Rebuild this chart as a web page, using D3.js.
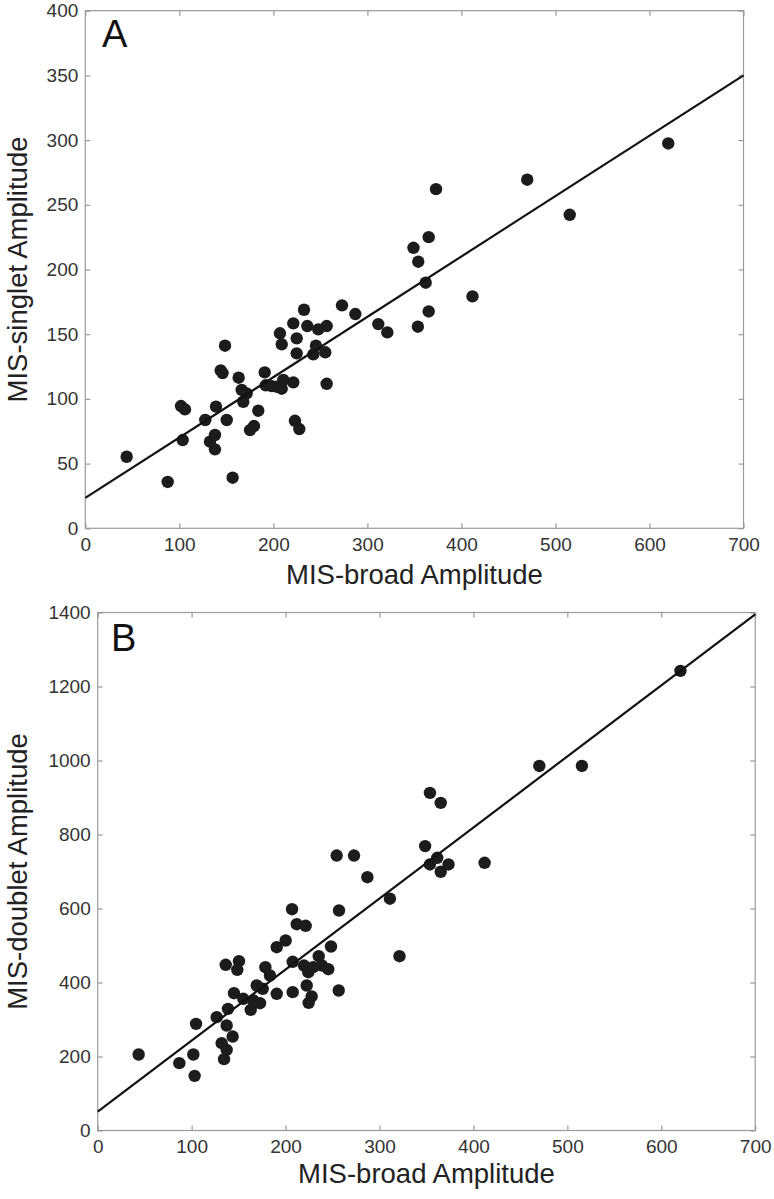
<!DOCTYPE html>
<html>
<head>
<meta charset="utf-8">
<script src="https://cdn.jsdelivr.net/npm/d3@7/dist/d3.min.js"></script>
<style>
  html, body { margin: 0; padding: 0; background: #fff; }
  svg { display: block; }
  text { font-family: "Liberation Sans", Arial, sans-serif; }
</style>
</head>
<body>
<svg id="chart" width="774" height="1199"></svg>
<script>
// ---- Panel A data: MIS-broad vs MIS-singlet ----
const broadA = [44, 87.6, 156.7, 103.6, 101.8, 106, 127.6, 139, 150.4, 132.6, 137.9, 137.9, 144, 146, 148.6,
  163.1, 166.3, 171.6, 168, 175.2, 179.4, 184, 190.8, 191.9, 198.2, 203.5, 208.9, 210.6, 221.2, 207, 208.9,
  221.2, 224.8, 224.8, 232.6, 236.1, 242.5, 245.3, 247.8, 256.7, 255.2, 223, 227.6, 256.7, 273, 287.2,
  311.6, 321.2, 349, 354.1, 365.2, 362, 353.7, 365.2, 373, 411.8, 470, 515.2, 620];
const singletA = [55.3, 35.8, 39.1, 68.2, 94.5, 91.9, 83.7, 94, 83.7, 66.9, 72.1, 61, 122, 120, 141.1,
  116.4, 106.9, 104.3, 97.8, 75.9, 79, 90.9, 120.5, 110.5, 109.9, 109.4, 107.9, 114.6, 112.8, 150.7, 142.2,
  158.4, 146.8, 135.2, 168.9, 156.3, 134.4, 141.1, 153.7, 156.3, 136, 83.1, 76.7, 111.7, 172.3, 165.6,
  157.8, 151.4, 216.8, 206, 225, 189.8, 155.8, 167.6, 262.1, 179.2, 269.4, 242.3, 297.4];
const fitA_x = [0, 700];
const fitA_y = [23.5, 350];

// ---- Panel B data: MIS-broad vs MIS-doublet ----
const broadB = [43.6, 86.9, 101.8, 103.2, 104.7, 126.7, 132, 137.3, 134.5, 137.3, 138.7, 143.7, 136.3, 150.4,
  148.6, 145.1, 155, 162.9, 169.3, 172.8, 175.7, 165.7, 178.5, 183.4, 190.6, 190.6, 200.1, 206.9, 207.6,
  207.6, 211.9, 221.4, 219.6, 224.2, 222.5, 227.8, 224.6, 235.3, 238.8, 245.5, 229.5, 248.4, 254.4, 256.9,
  256.6, 272.9, 287.1, 311.1, 321.3, 348.6, 353.7, 365.2, 353.7, 361.5, 365.2, 373.5, 411.9, 470.2, 515.5, 620.4];
const doubletB = [205.4, 182, 205.4, 147.7, 288.3, 306.3, 236, 218, 192.8, 283.8, 328.8, 254, 447.8, 457.7,
  434.2, 371, 356, 326.2, 391.9, 344.1, 383, 351.4, 441.4, 418.9, 369.5, 495.4, 513.5, 598.1, 455.9,
  373.9, 557.6, 553.2, 445.9, 427.9, 391.9, 362.2, 345, 471.1, 445.9, 436, 441.4, 497.3, 743.2, 594.6,
  378.4, 743.2, 684.6, 626.5, 471, 768.6, 912.4, 885.4, 719, 737, 699.3, 719, 723.6, 985.2, 985.2, 1242.3];
const fitB_x = [0, 700];
const fitB_y = [51, 1395];

// ---- tick labels ----
const xTicks = [0, 100, 200, 300, 400, 500, 600, 700];
const yTicksA = [0, 50, 100, 150, 200, 250, 300, 350, 400];
const yTicksB = [0, 200, 400, 600, 800, 1000, 1200, 1400];

const panels = [
  { letter: "A", xs: broadA, ys: singletA, fx: fitA_x, fy: fitA_y, yTicks: yTicksA, yMax: 400,
    xTitle: "MIS-broad Amplitude", yTitle: "MIS-singlet Amplitude",
    left: 85.3, right: 743.5, top: 10.7, bottom: 528.3, xTitleY: 584, yTitleX: 27, letterX: 102, letterY: 47 },
  { letter: "B", xs: broadB, ys: doubletB, fx: fitB_x, fy: fitB_y, yTicks: yTicksB, yMax: 1400,
    xTitle: "MIS-broad Amplitude", yTitle: "MIS-doublet Amplitude",
    left: 97.7, right: 755.2, top: 612.5, bottom: 1130.5, xTitleY: 1183, yTitleX: 27, letterX: 111, letterY: 651 }
];

const svg = d3.select("#chart");
const gray = "#9a9a9a";

panels.forEach(p => {
  const x = d3.scaleLinear().domain([0, 700]).range([p.left, p.right]);
  const y = d3.scaleLinear().domain([0, p.yMax]).range([p.bottom, p.top]);
  const g = svg.append("g");

  // frame
  g.append("rect").attr("x", p.left).attr("y", p.top)
    .attr("width", p.right - p.left).attr("height", p.bottom - p.top)
    .attr("fill", "none").attr("stroke", gray).attr("stroke-width", 1.2);

  const styleAxis = (sel, showLabels) => {
    sel.select(".domain").remove();
    sel.selectAll(".tick line").attr("stroke", gray).attr("stroke-width", 1.2);
    sel.selectAll(".tick text").attr("fill", "#333").style("font-size", "19px")
      .style("font-family", '"Liberation Sans", Arial, sans-serif');
    if (!showLabels) sel.selectAll(".tick text").remove();
  };

  g.append("g").attr("transform", `translate(0,${p.bottom})`)
    .call(d3.axisBottom(x).tickValues(xTicks).tickSize(-5).tickPadding(9).tickFormat(d3.format("d")))
    .call(s => styleAxis(s, true));
  g.append("g").attr("transform", `translate(0,${p.top})`)
    .call(d3.axisTop(x).tickValues(xTicks).tickSize(-5))
    .call(s => styleAxis(s, false));
  g.append("g").attr("transform", `translate(${p.left},0)`)
    .call(d3.axisLeft(y).tickValues(p.yTicks).tickSize(-5).tickPadding(7).tickFormat(d3.format("d")))
    .call(s => styleAxis(s, true));
  g.append("g").attr("transform", `translate(${p.right},0)`)
    .call(d3.axisRight(y).tickValues(p.yTicks).tickSize(-5))
    .call(s => styleAxis(s, false));

  // points
  const pts = p.xs.map((v, i) => ({ x: v, y: p.ys[i] }));
  g.append("g").selectAll("circle").data(pts).join("circle")
    .attr("cx", d => x(d.x)).attr("cy", d => y(d.y)).attr("r", 6.2)
    .attr("fill", "#1c1c1c");

  // fit line
  const fit = p.fx.map((v, i) => ({ x: v, y: p.fy[i] }));
  g.append("path").datum(fit)
    .attr("d", d3.line().x(d => x(d.x)).y(d => y(d.y)))
    .attr("fill", "none").attr("stroke", "#111").attr("stroke-width", 2.2);

  // titles
  g.append("text").attr("x", (p.left + p.right) / 2).attr("y", p.xTitleY)
    .attr("text-anchor", "middle").attr("fill", "#222").style("font-size", "27.5px").text(p.xTitle);
  g.append("text").attr("transform", `translate(${p.yTitleX},${(p.top + p.bottom) / 2}) rotate(-90)`)
    .attr("text-anchor", "middle").attr("fill", "#222").style("font-size", "27.5px").text(p.yTitle);
  g.append("text").attr("x", p.letterX).attr("y", p.letterY)
    .attr("fill", "#111").style("font-size", "38px").text(p.letter);
});
</script>
</body>
</html>
